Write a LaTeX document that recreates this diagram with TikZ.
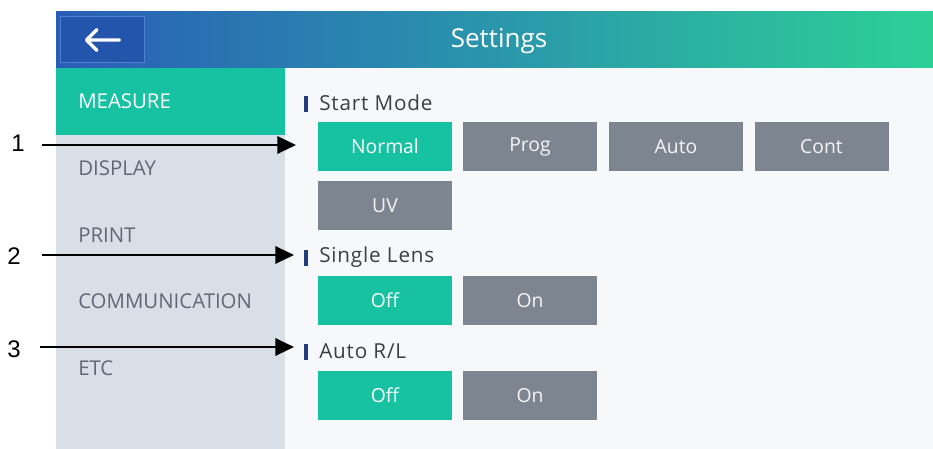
\documentclass[tikz,border=0pt]{standalone}
\usepackage{fontspec}
\setmainfont{Open Sans}
\newfontfamily\numfont{Liberation Sans}
\usetikzlibrary{arrows.meta}
\definecolor{teal}{HTML}{17C2A3}
\definecolor{btngray}{HTML}{7D8590}
\definecolor{sidebg}{HTML}{D9DFE7}
\definecolor{panelbg}{HTML}{F7F8F9}
\definecolor{hdrleft}{HTML}{2A5DB6}
\definecolor{hdrmid}{HTML}{2A96AC}
\definecolor{hdrright}{HTML}{2DD096}
\definecolor{backbg}{HTML}{2455AC}
\definecolor{backbd}{HTML}{4D82D2}
\definecolor{menutxt}{HTML}{5F6874}
\definecolor{labtxt}{HTML}{3A3F45}
\definecolor{barblue}{HTML}{1F3F7A}
\begin{document}
\begin{tikzpicture}[x=0.75pt,y=-0.75pt,
  btn/.style={minimum width=100.5pt,minimum height=36.75pt,inner sep=0pt,font=\fontsize{14.5pt}{17pt}\selectfont},
  btnon/.style={btn,fill=teal,text=white},
  btnoff/.style={btn,fill=btngray,text=white!92!btngray},
  menu/.style={anchor=west,text=menutxt,font=\fontsize{15.3pt}{18pt}\selectfont,inner sep=0pt},
  seclab/.style={anchor=west,text=labtxt,font=\addfontfeatures{LetterSpace=4}\fontsize{15.5pt}{18pt}\selectfont,inner sep=0pt},
  secbar/.style={fill=barblue,minimum width=2.4pt,minimum height=12pt,inner sep=0pt},
  num/.style={font=\numfont\fontsize{18pt}{20pt}\selectfont,text=black,inner sep=0pt},
  callout/.style={line width=1.6pt,-{Triangle[length=14pt,width=13pt]}}]
\useasboundingbox (0,0) rectangle (933,449);
\fill[white] (0,0) rectangle (933,449);
% panels
\fill[panelbg] (285,68) rectangle (933,449);
\fill[sidebg] (56,68) rectangle (285,449);
% header
\shade[left color=hdrleft,right color=hdrright,middle color=hdrmid] (56,12) rectangle (933,68);
\node[text=white,font=\fontsize{19.5pt}{22pt}\selectfont] (title) at (499,41) {Settings};
\node[draw=backbd,fill=backbg,line width=0.8pt,minimum width=63pt,minimum height=34pt,inner sep=0pt] (back) at (102.5,39.5) {};
\draw[white,line width=2.4pt,line cap=round,line join=round] (97,29.5) -- (86.5,40) -- (97,50.5) (86.5,40) -- (119.5,40);
% sidebar
\fill[teal] (56,68) rectangle (285,135);
\node[menu,text=white] (m1) at (78,101) {MEASURE};
\node[menu] (m2) at (78,168) {DISPLAY};
\node[menu] (m3) at (78,235) {PRINT};
\node[menu] (m4) at (78,301) {COMMUNICATION};
\node[menu] (m5) at (78,368) {ETC};
% sections
\node[secbar] (b1) at (306,104) {};
\node[seclab] (s1) at (319,103) {Start Mode};
\node[secbar] (b2) at (306,258) {};
\node[seclab] (s2) at (319,257) {Single Lens};
\node[secbar] (b3) at (306,352) {};
\node[seclab] (s3) at (319,351) {Auto R/L};
% buttons
\node[btnon] (normal) at (385,146.5) {Normal};
\node[btnoff] (prog) at (530,146.5) {Prog};
\node[btnoff] (auto) at (676,146.5) {Auto};
\node[btnoff] (cont) at (821.5,146.5) {Cont};
\node[btnoff] (uv) at (385,205.5) {UV};
\node[btnon] (sloff) at (385,300.5) {Off};
\node[btnoff] (slon) at (530,300.5) {On};
\node[btnon] (arloff) at (385,395.5) {Off};
\node[btnoff] (arlon) at (530,395.5) {On};
% callouts
\node[num] (n1) at (18,143) {1};
\node[num] (n2) at (14,256) {2};
\node[num] (n3) at (14,349) {3};
\coordinate (a1) at (42,145);
\coordinate (t1) at (296,145);
\coordinate (a2) at (42,255);
\coordinate (t2) at (294,255);
\coordinate (a3) at (40,347);
\coordinate (t3) at (294,347);
\draw[callout] (a1) -- (t1);
\draw[callout] (a2) -- (t2);
\draw[callout] (a3) -- (t3);
\end{tikzpicture}
\end{document}
